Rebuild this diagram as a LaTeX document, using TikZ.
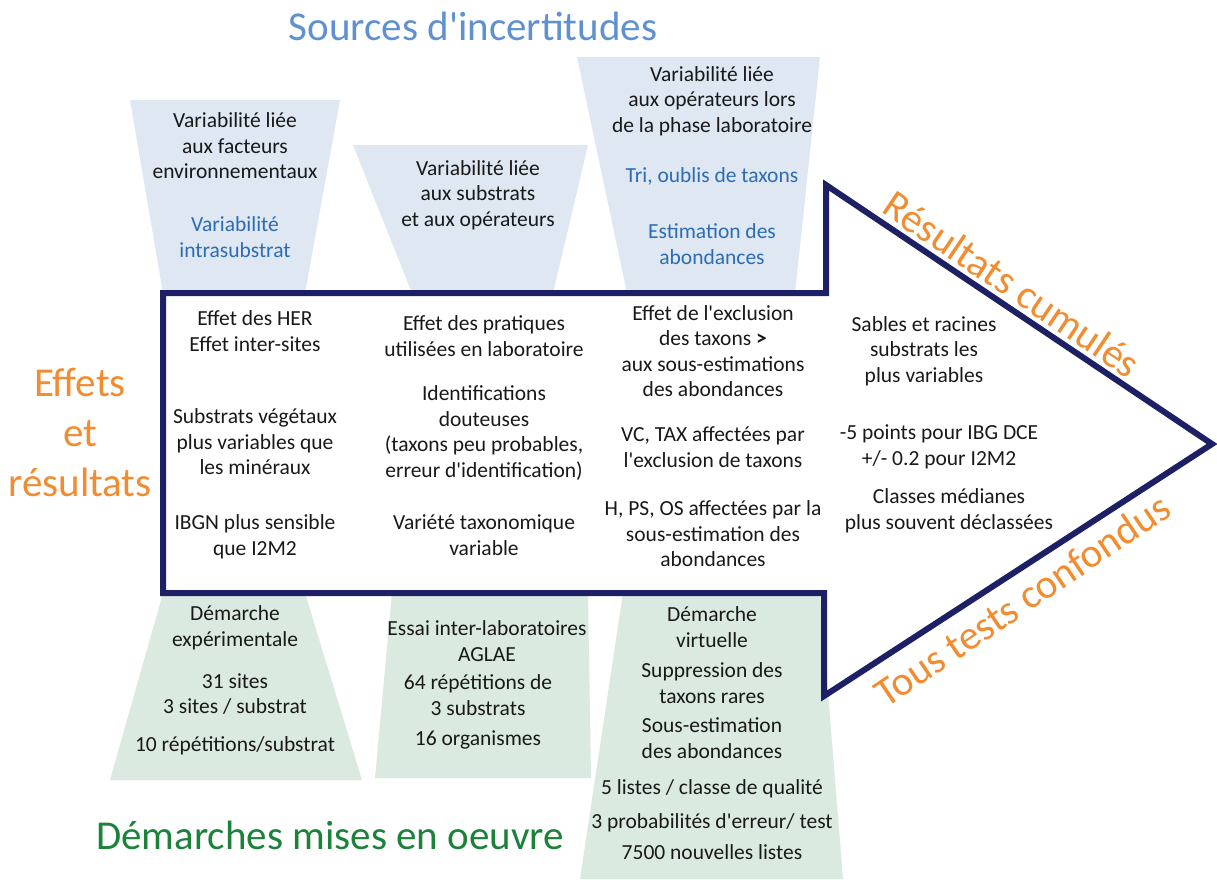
\documentclass[tikz,border=0pt]{standalone}
\usepackage{fontspec}
\newfontfamily\carl{Carlito}
\definecolor{navy}{RGB}{30,32,102}
\definecolor{tfill}{RGB}{222,231,242}
\definecolor{gfill}{RGB}{219,234,224}
\definecolor{tblue}{RGB}{95,145,210}
\definecolor{sblue}{RGB}{44,108,180}
\definecolor{orng}{RGB}{242,140,48}
\definecolor{grn}{RGB}{28,130,58}
\definecolor{ink}{RGB}{25,25,25}
\newcommand{\bodyfont}{\carl\fontsize{21.5}{25.5}\selectfont}
\tikzset{
  txt/.style={align=center, inner sep=0pt, font=\bodyfont, text=ink},
  btxt/.style={txt, text=sblue},
  topshape/.style={fill=tfill, draw=none},
  botshape/.style={fill=gfill, draw=none},
  arrowline/.style={draw=navy, line width=6pt, line join=miter},
  bigtitle/.style={inner sep=0pt, font=\carl\fontsize{41}{50}\selectfont},
}
\begin{document}
\begin{tikzpicture}[x=1pt,y=-1pt]
\useasboundingbox[fill=white] (0,0) rectangle (1217,879);
% top trapezoids
\fill[topshape] (130,100) -- (340,100) -- (305,293) -- (163,293) -- cycle;
\fill[topshape] (353,145) -- (588,145) -- (553,293) -- (412,293) -- cycle;
\fill[topshape] (577,57) -- (820,57) -- (795,293) -- (627,293) -- cycle;
% bottom trapezoids
\fill[botshape] (163,593) -- (305,593) -- (362,780) -- (110,780) -- cycle;
\fill[botshape] (392,593) -- (588,593) -- (591,778) -- (375,778) -- cycle;
\fill[botshape] (623,593) -- (820,593) -- (843,879) -- (580,879) -- cycle;
% arrow
\draw[arrowline] (163,293) -- (826,293) -- (826,185) -- (1212,444) -- (824,696) -- (824,593) -- (163,593) -- cycle;
% titles
\node[bigtitle, text=tblue] (src) at (473,26) {Sources d'incertitudes};
\node[bigtitle, text=orng, align=center] (eff) at (80,432) {Effets\\et\\résultats};
\node[bigtitle, text=grn] (dem) at (330,835) {Démarches mises en oeuvre};
\node[bigtitle, text=orng, rotate=-34] (cum) at (1012,284) {Résultats cumulés};
\node[bigtitle, text=orng, rotate=34] (conf) at (1022,600) {Tous tests confondus};
% top texts
\node[txt] (t1a) at (235,146) {Variabilité liée\\aux facteurs\\environnementaux};
\node[btxt] (t1b) at (235,237) {Variabilité\\intrasubstrat};
\node[txt] (t2a) at (478,195) {Variabilité liée\\aux substrats\\et aux opérateurs};
\node[txt] (t3a) at (712,101) {Variabilité liée\\aux opérateurs lors\\de la phase laboratoire};
\node[btxt] (t3b) at (712,176) {Tri, oublis de taxons};
\node[btxt] (t3c) at (712,244) {Estimation des\\abondances};
% arrow column 1
\node[txt] (c1a) at (255,331) {Effet des HER\\Effet inter-sites};
\node[txt] (c1b) at (255,442) {Substrats végétaux\\plus variables que\\les minéraux};
\node[txt] (c1c) at (255,537) {IBGN plus sensible\\que I2M2};
% column 2
\node[txt] (c2a) at (484,336) {Effet des pratiques\\utilisées en laboratoire};
\node[txt] (c2b) at (484,433) {Identifications\\douteuses\\(taxons peu probables,\\erreur d'identification)};
\node[txt] (c2c) at (484,535) {Variété taxonomique\\variable};
% column 3
\node[txt] (c3a) at (713,351) {Effet de l'exclusion\\des taxons \textbf{>}\\aux sous-estimations\\des abondances};
\node[txt] (c3b) at (713,447) {VC, TAX affectées par\\l'exclusion de taxons};
\node[txt] (c3c) at (713,534) {H, PS, OS affectées par la\\sous-estimation des\\abondances};
% column 4
\node[txt] (c4a) at (924,351) {Sables et racines\\substrats les\\plus variables};
\node[txt] (c4b) at (939,447) {-5 points pour IBG DCE\\+/- 0.2 pour I2M2};
\node[txt] (c4c) at (949,511) {Classes médianes\\plus souvent déclassées};
% bottom texts
\node[txt] (b1a) at (235,628) {Démarche\\expérimentale};
\node[txt] (b1b) at (235,694) {31 sites\\3 sites / substrat};
\node[txt] (b1c) at (235,746) {10 répétitions/substrat};
\node[txt] (b2a) at (487,641) {Essai inter-laboratoires\\AGLAE};
\node[txt] (b2b) at (478,695) {64 répétitions de\\3 substrats};
\node[txt] (b2c) at (478,740) {16 organismes};
\node[txt] (b3a) at (712,627) {Démarche\\virtuelle};
\node[txt] (b3b) at (712,683) {Suppression des\\taxons rares};
\node[txt] (b3c) at (712,738) {Sous-estimation\\des abondances};
\node[txt] (b3d) at (712,789) {5 listes / classe de qualité};
\node[txt] (b3e) at (712,823) {3 probabilités d'erreur/ test};
\node[txt] (b3f) at (712,852) {7500 nouvelles listes};
\end{tikzpicture}
\end{document}
